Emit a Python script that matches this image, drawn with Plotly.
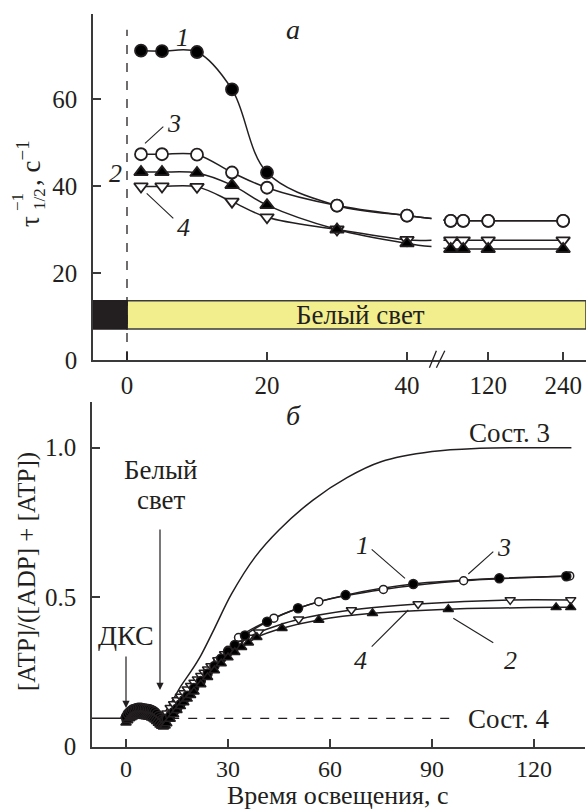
import plotly.graph_objects as go
import numpy as np

W, H = 586, 810
FONT = "Liberation Serif"
INK = "#231f20"
AXC = "#3a3a3a"

# ---------------- Panel a data ----------------
A_T = [2, 5, 10, 15, 20, 30, 40, 60, 80, 120, 240]
A_S1 = [71.1, 71.0, 70.8, 62.2, 43.1, 35.5, 33.2, 32.0, 32.0, 32.0, 32.0]
A_S3 = [47.3, 47.3, 47.2, 43.1, 39.6, 35.5, 33.2, 32.0, 32.0, 32.0, 32.0]
A_S2 = [43.2, 43.2, 43.0, 40.2, 35.6, 30.0, 26.8, 25.5, 25.5, 25.5, 25.5]
A_S4 = [39.9, 39.9, 39.8, 36.4, 32.8, 30.0, 27.6, 27.5, 27.5, 27.5, 27.5]
A_XTICKS = [0, 20, 40, 120, 240]
A_YTICKS = [0, 20, 40, 60]

# ---------------- Panel b data ----------------
B1_T = [0, 0.5, 1, 1.5, 2, 2.5, 3, 3.5, 4, 4.5, 5, 5.5, 6, 6.5, 7, 7.5, 8, 8.5, 9, 9.5, 10, 10.5, 11, 11.5,
        12, 13, 14, 15, 16, 17, 18, 20, 22, 24, 26, 28, 30, 32, 35,
        41.5, 50.6, 64.6, 84.5, 109.8, 129.5]
B1_Y = [0.1, 0.11, 0.116, 0.121, 0.125, 0.127, 0.129, 0.13, 0.13, 0.13, 0.129, 0.128, 0.127, 0.126,
        0.125, 0.123, 0.12, 0.116, 0.11, 0.103, 0.096, 0.09, 0.087, 0.088,
        0.093, 0.104, 0.116, 0.128, 0.142, 0.156, 0.17, 0.196, 0.22, 0.245, 0.27, 0.295, 0.318, 0.34, 0.372,
        0.418, 0.463, 0.507, 0.544, 0.563, 0.570]
B3_T = [0, 1, 2, 3, 4, 5, 6, 7, 8, 9, 10, 12, 14, 16, 18, 20, 22, 24, 27, 30, 33.1,
        43.5, 56.7, 75.7, 99.3, 130.5]
B3_Y = [0.09, 0.102, 0.11, 0.114, 0.115, 0.115, 0.113, 0.111, 0.105, 0.094, 0.08, 0.095, 0.125, 0.15,
        0.175, 0.2, 0.225, 0.25, 0.287, 0.322, 0.365,
        0.43, 0.485, 0.526, 0.555, 0.571]
B2_T = [0, 0.5, 1, 1.5, 2, 2.5, 3, 3.5, 4, 4.5, 5, 5.5, 6, 6.5, 7, 7.5, 8, 8.5, 9, 9.5, 10, 10.5, 11, 11.5,
        12, 13, 14, 15, 16, 17, 18, 19, 20, 22, 24, 26, 28, 30, 32,
        34, 36, 38.5, 45.9, 56.7, 72.5, 94.8, 126.5, 130.8]
B2_Y = [0.08, 0.088, 0.094, 0.098, 0.101, 0.103, 0.104, 0.104, 0.104, 0.104, 0.103, 0.102, 0.101, 0.1,
        0.099, 0.097, 0.094, 0.09, 0.085, 0.079, 0.073, 0.069, 0.067, 0.07,
        0.078, 0.093, 0.108, 0.122, 0.135, 0.148, 0.16, 0.172, 0.184, 0.208, 0.232, 0.255, 0.278, 0.298, 0.316,
        0.333, 0.348, 0.366, 0.396, 0.424, 0.446, 0.46, 0.466, 0.466]
B4_T = [0, 1, 2, 3, 4, 5, 6, 7, 8, 9, 10, 11, 12, 13, 14, 15, 16, 17, 18, 19, 20, 21, 22, 23, 24, 25, 27,
        29, 31, 33, 36, 39, 50.8, 66.3, 85.9, 113, 130.8]
B4_Y = [0.092, 0.103, 0.111, 0.115, 0.117, 0.116, 0.115, 0.113, 0.108, 0.1, 0.088, 0.095, 0.112, 0.13, 0.143,
        0.156, 0.168, 0.18, 0.192, 0.204, 0.215, 0.226, 0.237, 0.248, 0.259, 0.27, 0.29,
        0.31, 0.328, 0.345, 0.365, 0.383, 0.426, 0.457, 0.477, 0.491, 0.491]
STATE3_T = [10, 12, 14, 16, 19, 22, 26, 31, 38, 45, 55, 65, 75, 90, 104, 118, 131]
STATE3_Y = [0.085, 0.125, 0.16, 0.2, 0.25, 0.305, 0.395, 0.51, 0.635, 0.725, 0.825, 0.9, 0.953, 0.987,
            0.998, 1.0, 1.0]
STATE4_LEVEL = 0.095
STATE4_T = [13, 97]
B_XTICKS = [0, 30, 60, 90, 120]
B_YTICKS = [0, 0.5, 1.0]
B_YTICKTEXT = ["0", "0.5", "1.0"]


# ---------------- broken time scale for panel a ----------------
def a_pos(t):
    """Display position on the broken axis of panel a."""
    return t if t <= 40 else 51.6 + (t - 120) * 0.0892


BREAK_L, BREAK_R = 43.5, 45.2

# axis geometry (pixels)
A_DOM_X = [93 / W, 1.0]
A_DOM_Y = [1 - 360 / H, 1 - 14 / H]
A_XR = [-34 / 7, 459 / 7]
A_YR = [0, 346 / 4.35]
B_DOM_X = [92 / W, 585 / W]
B_DOM_Y = [1 - 746.7 / H, 1 - 401.7 / H]
B_XR = [-34 / 3.4, 459 / 3.4]
B_YR = [0, 345 / 299]


def px(x):
    return x / W


def py(y):
    return 1 - y / H


def ax_paper_x(v):
    return A_DOM_X[0] + (v - A_XR[0]) / (A_XR[1] - A_XR[0]) * (A_DOM_X[1] - A_DOM_X[0])


fig = go.Figure()

# ---- panel a traces ----
a_series = [
    (A_S1, "circle", "black"),
    (A_S3, "circle", "white"),
    (A_S4, "triangle-down", "white"),
    (A_S2, "triangle-up", "black"),
]
for ys, sym, fill in a_series:
    xs = [a_pos(t) for t in A_T]
    pre_x = [x for x, t in zip(xs, A_T) if t <= 40]
    pre_y = [y for y, t in zip(ys, A_T) if t <= 40]
    post_x = [x for x, t in zip(xs, A_T) if t > 40]
    post_y = [y for y, t in zip(ys, A_T) if t > 40]
    yl = np.interp(BREAK_L, [pre_x[-1], post_x[0]], [pre_y[-1], post_y[0]])
    yr = np.interp(BREAK_R, [pre_x[-1], post_x[0]], [pre_y[-1], post_y[0]])
    fig.add_trace(go.Scatter(x=pre_x + [BREAK_L], y=pre_y + [float(yl)], mode="lines",
                             line=dict(color=INK, width=1.5, shape="spline", smoothing=1.0),
                             xaxis="x", yaxis="y", hoverinfo="skip", showlegend=False))
    fig.add_trace(go.Scatter(x=[BREAK_R] + post_x, y=[float(yr)] + post_y, mode="lines",
                             line=dict(color=INK, width=1.5),
                             xaxis="x", yaxis="y", hoverinfo="skip", showlegend=False))
for ys, sym, fill in a_series:
    fig.add_trace(go.Scatter(x=[a_pos(t) for t in A_T], y=ys, mode="markers",
                             marker=dict(symbol=sym, size=12, color=fill, line=dict(color=INK, width=1.8)),
                             xaxis="x", yaxis="y", showlegend=False))

# ---- panel b traces ----
fig.add_trace(go.Scatter(x=STATE3_T, y=STATE3_Y, mode="lines",
                         line=dict(color=INK, width=1.5, shape="spline"),
                         xaxis="x2", yaxis="y2", hoverinfo="skip", showlegend=False))
fig.add_trace(go.Scatter(x=[B_XR[0], 0], y=[STATE4_LEVEL, STATE4_LEVEL], mode="lines",
                         line=dict(color=INK, width=1.5), xaxis="x2", yaxis="y2",
                         hoverinfo="skip", showlegend=False))
fig.add_trace(go.Scatter(x=STATE4_T, y=[STATE4_LEVEL, STATE4_LEVEL], mode="lines",
                         line=dict(color=INK, width=1.3, dash="dash"), xaxis="x2", yaxis="y2",
                         hoverinfo="skip", showlegend=False))
b_series = [
    (B3_T, B3_Y, "circle", "white", 8),
    (B4_T, B4_Y, "triangle-down", "white", 9),
    (B1_T, B1_Y, "circle", "black", 9),
    (B2_T, B2_Y, "triangle-up", "black", 9),
]
for ts, ys, sym, fill, sz in b_series:
    fig.add_trace(go.Scatter(x=ts, y=ys, mode="lines",
                             line=dict(color=INK, width=1.5, shape="spline", smoothing=0.8),
                             xaxis="x2", yaxis="y2", hoverinfo="skip", showlegend=False))
for ts, ys, sym, fill, sz in b_series:
    fig.add_trace(go.Scatter(x=ts, y=ys, mode="markers",
                             marker=dict(symbol=sym, size=sz, color=fill, line=dict(color=INK, width=1.5)),
                             xaxis="x2", yaxis="y2", showlegend=False))

axis_common = dict(showline=True, linecolor=AXC, linewidth=1.5, ticks="inside", ticklen=8,
                   tickwidth=1.5, tickcolor=AXC, showgrid=False, zeroline=False, fixedrange=True)
TICKFONT = dict(family=FONT, size=25, color=INK)

fig.update_layout(
    width=W, height=H, margin=dict(l=0, r=0, t=0, b=0, autoexpand=False),
    paper_bgcolor="white", plot_bgcolor="white", showlegend=False,
    xaxis=dict(domain=A_DOM_X, range=A_XR, anchor="y", ticklabelstandoff=2, tickfont=TICKFONT,
               tickvals=[a_pos(t) for t in A_XTICKS], ticktext=[str(t) for t in A_XTICKS], **axis_common),
    yaxis=dict(domain=A_DOM_Y, range=A_YR, anchor="x", tickvals=A_YTICKS, ticklabelstandoff=9,
               tickfont=TICKFONT, **axis_common),
    xaxis2=dict(domain=B_DOM_X, range=B_XR, anchor="y2", tickvals=B_XTICKS, ticklabelstandoff=0,
                tickfont=dict(family=FONT, size=24, color=INK), **axis_common),
    yaxis2=dict(domain=B_DOM_Y, range=B_YR, anchor="x2", tickvals=B_YTICKS, ticktext=B_YTICKTEXT,
                ticklabelstandoff=9, tickfont=TICKFONT, **axis_common),
)

shapes = []
# light bar
shapes.append(dict(type="rect", xref="x", yref="y", x0=0, x1=A_XR[1], y0=7.1, y1=13.6,
                   fillcolor="#f2ee8e", line=dict(color=AXC, width=1.5), layer="below"))
shapes.append(dict(type="rect", xref="x", yref="y", x0=A_XR[0], x1=0, y0=7.1, y1=13.6,
                   fillcolor="#231f20", line=dict(color="#231f20", width=1.5), layer="below"))
# dashed light-on line
shapes.append(dict(type="line", xref="x", yref="y", x0=0, x1=0, y0=0, y1=75.9,
                   line=dict(color=INK, width=1.3, dash="dash")))
# axis break marks
for a, b in [(43.2, 44.2), (44.2, 45.4)]:
    shapes.append(dict(type="line", xref="paper", yref="paper", x0=ax_paper_x(a), x1=ax_paper_x(b),
                       y0=py(367.7), y1=py(350.7), line=dict(color=INK, width=1.3)))
# leader lines (pixel coordinates)
leaders = [
    ((145, 143.3), (163.3, 126.7)),
    ((146.7, 193.3), (173.3, 218.3)),
    ((371.7, 549.3), (405, 578.3)),
    ((493.3, 551.7), (468.3, 574)),
    ((371.7, 646.7), (408.3, 610)),
    ((493.3, 642.7), (453.3, 618.3)),
]
for (x0, y0), (x1, y1) in leaders:
    shapes.append(dict(type="line", xref="paper", yref="paper", x0=px(x0), y0=py(y0), x1=px(x1), y1=py(y1),
                       line=dict(color=INK, width=1.1)))
fig.update_layout(shapes=shapes)

ann = []


def text(x, y, s, size=27, angle=0, italic=False, xanchor="center", yanchor="middle"):
    if italic:
        s = "<i>" + s + "</i>"
    ann.append(dict(x=px(x), y=py(y), xref="paper", yref="paper", text=s, showarrow=False,
                    textangle=angle, xanchor=xanchor, yanchor=yanchor,
                    font=dict(family=FONT, size=size, color=INK)))


# panel a labels
text(293, 30, "а", 28, italic=True)
text(182, 37, "1", 26, italic=True)
text(174, 123, "3", 26, italic=True)
text(115, 173, "2", 26, italic=True)
text(183, 228, "4", 26, italic=True)
text(361, 315, "Белый свет", 27)
# panel a y-title (stacked sub/superscript)
text(30, 222, "τ", 27, angle=-90)
text(39, 199, "1/2", 17, angle=-90)
text(18, 202, "−1", 17, angle=-90)
text(29, 163, ", с<sup>−1</sup>", 27, angle=-90)

# panel b labels
text(293, 415, "б", 28, italic=True)
text(509, 433, "Сост. 3", 27)
text(508, 719, "Сост. 4", 27)
text(161, 470, "Белый", 27)
text(161, 500, "свет", 27)
text(126, 635, "ДКС", 28)
text(362, 545, "1", 26, italic=True)
text(504, 547, "3", 26, italic=True)
text(360, 660, "4", 26, italic=True)
text(510, 660, "2", 26, italic=True)
text(27, 572, "[ATP]/([ADP] + [ATP])", 25, angle=-90)
text(338, 812, "Время освещения, с", 26, yanchor="bottom")

# arrows
for xv, ytail, ytip in [(0, (746.7 - 655) / 299, (746.7 - 708) / 299),
                        (10, (746.7 - 528) / 299, (746.7 - 690) / 299)]:
    ann.append(dict(x=xv, y=ytip, ax=xv, ay=ytail, xref="x2", yref="y2", axref="x2", ayref="y2",
                    text="", showarrow=True, arrowhead=2, arrowsize=1.2, arrowwidth=1.2, arrowcolor=INK))

fig.update_layout(annotations=ann)
fig.write_html("out.html", post_script="document.body.style.margin='0px';",
               config={"displayModeBar": False})
